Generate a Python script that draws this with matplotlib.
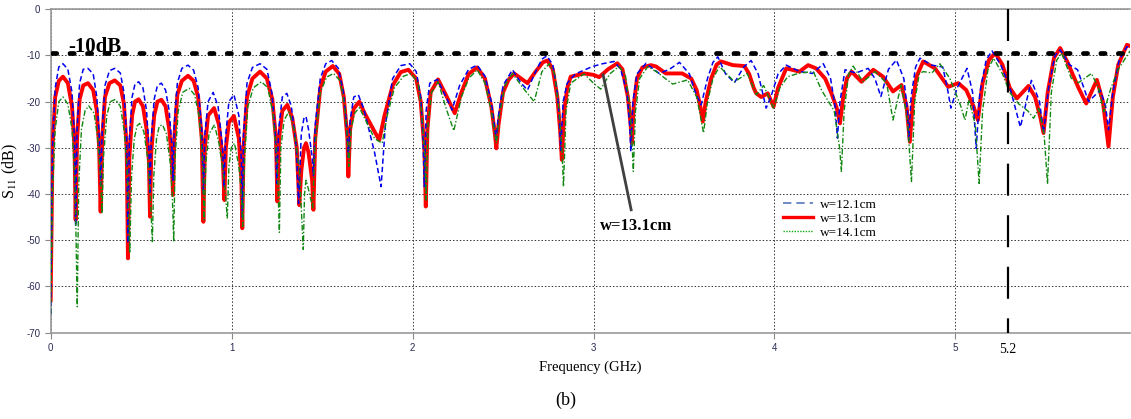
import matplotlib
matplotlib.use('Agg')
import matplotlib.pyplot as plt
from matplotlib.lines import Line2D

plt.rcParams['mathtext.fontset'] = 'stix'
plt.rcParams['axes.unicode_minus'] = False

# w = 13.1cm (red, solid)
f_131 = [0.000, 0.010, 0.025, 0.045, 0.068, 0.095, 0.118, 0.132, 0.138, 0.146, 0.160, 0.180, 0.206, 0.235, 0.255,
         0.268, 0.276, 0.285, 0.300, 0.325, 0.354, 0.385, 0.405, 0.420, 0.427, 0.435, 0.450, 0.466, 0.486, 0.510,
         0.530, 0.543, 0.549, 0.556, 0.572, 0.590, 0.612, 0.635, 0.655, 0.669, 0.676, 0.683, 0.700, 0.725, 0.759,
         0.790, 0.815, 0.835, 0.844, 0.852, 0.870, 0.903, 0.930, 0.952, 0.960, 0.968, 0.985, 1.013, 1.040, 1.054,
         1.059, 1.066, 1.085, 1.115, 1.157, 1.195, 1.225, 1.245, 1.253, 1.262, 1.280, 1.308, 1.335, 1.360, 1.374,
         1.385, 1.400, 1.411, 1.425, 1.445, 1.452, 1.462, 1.490, 1.520, 1.559, 1.595, 1.620, 1.640, 1.645, 1.655,
         1.675, 1.706, 1.735, 1.790, 1.816, 1.845, 1.890, 1.935, 1.977, 2.020, 2.045, 2.065, 2.073, 2.082, 2.100,
         2.141, 2.190, 2.233, 2.270, 2.310, 2.357, 2.400, 2.435, 2.455, 2.463, 2.475, 2.500, 2.530, 2.561, 2.600,
         2.635, 2.680, 2.720, 2.745, 2.775, 2.800, 2.815, 2.825, 2.838, 2.855, 2.874, 2.948, 3.000, 3.031, 3.080,
         3.132, 3.160, 3.190, 3.205, 3.212, 3.222, 3.240, 3.270, 3.317, 3.346, 3.400, 3.490, 3.540, 3.570, 3.590,
         3.604, 3.620, 3.650, 3.680, 3.705, 3.770, 3.834, 3.860, 3.885, 3.899, 3.927, 3.963, 3.995, 4.020, 4.065,
         4.138, 4.186, 4.230, 4.280, 4.315, 4.345, 4.362, 4.380, 4.400, 4.426, 4.481, 4.546, 4.600, 4.655, 4.702,
         4.730, 4.748, 4.765, 4.785, 4.822, 4.887, 4.960, 5.016, 5.060, 5.100, 5.124, 5.150, 5.185, 5.220, 5.260,
         5.300, 5.340, 5.404, 5.440, 5.470, 5.487, 5.510, 5.545, 5.579, 5.620, 5.680, 5.723, 5.782, 5.815, 5.846,
         5.870, 5.900, 5.948, 5.966]
s_131 = [-63, -30, -19, -15.5, -14.6, -16, -21, -30, -45.6, -28, -19.5, -16.5, -16.0, -17.5, -22,
         -30, -43.8, -28, -19, -16, -15.4, -16.5, -20.5, -30, -53.9, -32, -23, -20, -19.5, -21,
         -26, -33, -44.9, -31, -23, -20, -19.6, -21, -26, -32, -40.2, -28, -18.5, -15.5, -14.4,
         -15.5, -19, -28, -46, -30, -23, -21.4, -25, -33, -41.3, -30, -24.5, -23.1, -28, -37,
         -47.4, -30, -19, -15, -13.5, -15, -19.5, -28, -41.6, -28, -22, -20.7, -23.5, -30, -42.4,
         -35, -30, -29.0, -31, -37, -43.4, -28, -17, -13.5, -12.3, -14, -19, -28, -36.2, -26,
         -21.5, -20, -22.5, -26.5, -28.3, -23, -16.5, -13.6, -13.1, -15, -20, -30, -42.7, -26, -18,
         -15.2, -19, -22.5, -18, -14, -12.6, -15, -21, -27, -30.1, -25, -18, -15.3, -13.9, -15,
         -16.0, -13.5, -11.5, -11.1, -13, -19, -26, -32.6, -22, -17, -14.6, -13.9, -14.2, -14.7, -13,
         -11.7, -13, -19, -25, -29.0, -21, -15, -12.6, -12.1, -12.4, -13.9, -13.9, -15, -17.5, -21,
         -24.3, -20, -15, -12, -11.3, -12.1, -12.3, -14, -17, -18.2, -19.0, -18.2, -21.1, -17, -12.8,
         -13.5, -12.1, -12.8, -15, -18.2, -21.5, -24.7, -19, -15, -13.5, -15.7, -13.1, -14.6, -17.8, -16.4,
         -21, -28.7, -20, -14.6, -11.3, -12.8, -16.8, -16.0, -17.5, -21, -24, -16, -11, -9.5, -12,
         -17, -19.3, -16.6, -19, -23.5, -26.8, -18, -10.5, -8.4, -11.5, -17, -20.4, -15.3, -20, -29.7,
         -19, -12, -7.7, -8.0]

# w = 12.1cm (blue, dashed)
f_121 = [0.000, 0.010, 0.025, 0.045, 0.068, 0.095, 0.118, 0.132, 0.138, 0.146, 0.160, 0.180, 0.206, 0.235, 0.255,
         0.268, 0.276, 0.285, 0.300, 0.325, 0.354, 0.385, 0.405, 0.420, 0.427, 0.435, 0.450, 0.466, 0.486, 0.510,
         0.530, 0.543, 0.549, 0.556, 0.572, 0.590, 0.612, 0.635, 0.655, 0.669, 0.676, 0.683, 0.700, 0.725, 0.759,
         0.790, 0.815, 0.835, 0.844, 0.852, 0.870, 0.898, 0.925, 0.950, 0.958, 0.966, 0.985, 1.013, 1.040, 1.054,
         1.059, 1.066, 1.085, 1.115, 1.157, 1.195, 1.222, 1.242, 1.250, 1.260, 1.280, 1.305, 1.330, 1.358, 1.370,
         1.385, 1.400, 1.411, 1.425, 1.445, 1.452, 1.462, 1.490, 1.520, 1.553, 1.590, 1.618, 1.635, 1.645, 1.655,
         1.675, 1.700, 1.730, 1.790, 1.826, 1.850, 1.890, 1.935, 1.985, 2.020, 2.045, 2.058, 2.065, 2.075, 2.095,
         2.137, 2.185, 2.218, 2.260, 2.310, 2.357, 2.400, 2.435, 2.455, 2.462, 2.475, 2.500, 2.552, 2.600, 2.635,
         2.680, 2.715, 2.742, 2.775, 2.800, 2.812, 2.819, 2.832, 2.855, 2.900, 2.994, 3.050, 3.114, 3.150, 3.185,
         3.200, 3.206, 3.218, 3.240, 3.290, 3.363, 3.420, 3.475, 3.530, 3.560, 3.595, 3.630, 3.660, 3.687, 3.730,
         3.779, 3.830, 3.871, 3.910, 3.954, 3.980, 4.020, 4.065, 4.140, 4.210, 4.270, 4.310, 4.335, 4.348, 4.362,
         4.390, 4.450, 4.518, 4.555, 4.588, 4.630, 4.674, 4.715, 4.735, 4.742, 4.755, 4.780, 4.804, 4.870, 4.930,
         4.955, 4.975, 5.010, 5.064, 5.095, 5.115, 5.135, 5.170, 5.202, 5.250, 5.300, 5.359, 5.420, 5.465, 5.487,
         5.515, 5.550, 5.579, 5.630, 5.675, 5.736, 5.800, 5.830, 5.846, 5.870, 5.905, 5.948, 5.966]
s_121 = [-66, -30, -17, -12.5, -11.8, -13, -18, -28, -47, -26, -16, -13, -12.8, -14, -19,
         -27, -38, -26, -16.5, -13.3, -12.8, -13.8, -18, -28, -50.6, -28, -19, -16.2, -15.7, -17,
         -22, -30, -40, -28, -19.5, -16.5, -16.0, -17.5, -22, -29, -37, -25, -16, -12.8, -12.1,
         -13.2, -17, -26, -40, -27, -20, -18.0, -21, -30, -38.5, -28, -20, -18.5, -23, -33,
         -45, -27, -16, -12.6, -11.8, -13, -18, -27, -37.7, -26, -19, -18.2, -21, -30, -42,
         -27, -23.5, -23.2, -26, -32, -36, -25, -15, -11.8, -11.1, -12.8, -18, -25, -32, -24,
         -19, -18.5, -21.5, -31, -38.4, -25, -15, -12.2, -11.8, -13.5, -19, -28, -38.4, -22, -16,
         -15.2, -19, -21.8, -16.5, -13, -12.1, -14.5, -20, -26, -28.3, -23, -16.5, -13.1, -16, -17.5,
         -13.5, -10.8, -10.1, -12, -18, -24, -30.5, -20, -16, -14, -12.4, -11.8, -11.3, -13, -18,
         -25, -30.8, -20, -14, -11.7, -13.9, -13, -11.5, -14, -17.7, -20.7, -15, -11.5, -10.3, -14,
         -15.9, -12.5, -11.1, -14, -21.4, -19, -14, -12.1, -13.5, -13.9, -11.8, -15, -21, -27.9, -20,
         -13.1, -13.8, -12.8, -15, -18.9, -13, -11.0, -15, -22, -28.3, -19, -12.5, -10.6, -12.1, -12.5,
         -17, -21.4, -17, -12.8, -18, -30.1, -18, -11, -9.0, -12, -16.8, -25.5, -15.4, -20, -26.8,
         -17, -10, -8.8, -12, -13.1, -20.0, -17.5, -21, -26.1, -18, -11, -8.1, -8.3]

# w = 14.1cm (green, dash-dot)
f_141 = [0.000, 0.010, 0.025, 0.045, 0.068, 0.095, 0.118, 0.135, 0.147, 0.155, 0.170, 0.190, 0.210, 0.240, 0.260,
         0.275, 0.284, 0.292, 0.310, 0.330, 0.358, 0.385, 0.405, 0.425, 0.437, 0.447, 0.462, 0.478, 0.492, 0.515,
         0.535, 0.550, 0.562, 0.570, 0.585, 0.600, 0.618, 0.640, 0.660, 0.672, 0.680, 0.688, 0.705, 0.730, 0.765,
         0.795, 0.820, 0.838, 0.848, 0.858, 0.875, 0.905, 0.930, 0.960, 0.976, 0.985, 0.998, 1.016, 1.040, 1.054,
         1.062, 1.072, 1.090, 1.120, 1.165, 1.200, 1.230, 1.252, 1.264, 1.272, 1.290, 1.316, 1.345, 1.375, 1.396,
         1.403, 1.411, 1.425, 1.448, 1.460, 1.490, 1.525, 1.563, 1.600, 1.625, 1.640, 1.648, 1.660, 1.680, 1.706,
         1.740, 1.790, 1.832, 1.860, 1.900, 1.950, 1.993, 2.030, 2.050, 2.068, 2.075, 2.085, 2.105, 2.141, 2.190,
         2.228, 2.270, 2.310, 2.357, 2.400, 2.435, 2.455, 2.463, 2.480, 2.510, 2.552, 2.610, 2.672, 2.715, 2.755,
         2.785, 2.810, 2.825, 2.834, 2.848, 2.874, 2.948, 3.000, 3.040, 3.090, 3.140, 3.175, 3.200, 3.212, 3.220,
         3.232, 3.255, 3.300, 3.346, 3.438, 3.520, 3.570, 3.595, 3.608, 3.630, 3.660, 3.696, 3.779, 3.850, 3.900,
         3.940, 3.995, 4.030, 4.073, 4.140, 4.215, 4.260, 4.330, 4.360, 4.370, 4.385, 4.410, 4.435, 4.490, 4.556,
         4.620, 4.655, 4.700, 4.735, 4.757, 4.775, 4.800, 4.822, 4.870, 4.914, 4.970, 5.030, 5.053, 5.075, 5.110,
         5.131, 5.150, 5.180, 5.211, 5.260, 5.300, 5.350, 5.400, 5.432, 5.460, 5.490, 5.509, 5.530, 5.560, 5.587,
         5.640, 5.680, 5.752, 5.790, 5.820, 5.860, 5.900, 5.966]
s_141 = [-66, -40, -26, -20, -19.0, -20.5, -26, -38, -64.4, -38, -26, -22, -20.9, -22.5, -28,
         -36, -44.2, -32, -23, -20, -19.5, -21, -26, -36, -52.8, -36, -28, -25.2, -24.7, -26.5,
         -32, -40, -50.3, -36, -28, -25.3, -25.0, -27, -33, -40, -50.3, -32, -22, -18, -17.1,
         -18.5, -23, -32, -45.6, -33, -27, -25.0, -29, -37, -45.2, -34, -30, -29.0, -34, -40,
         -47, -32, -21, -17, -15.7, -17, -23, -33, -48.3, -30, -24, -22.2, -26, -35, -52.0,
         -40, -37, -39, -43, -30, -18, -14.7, -13.9, -15.5, -21, -28, -34, -26, -22.5, -21.3,
         -24, -28, -29.0, -23, -17, -14.5, -13.9, -16, -22, -32, -41.3, -25, -18, -15.7, -22,
         -26.3, -19, -15, -13.1, -16, -22, -27, -29.0, -23, -16.5, -13.9, -17, -20.0, -13.5, -11.8,
         -14, -22, -30, -38.4, -22, -16, -14, -16, -17.3, -14, -12.4, -14, -21, -28, -35.1,
         -22, -15, -12.4, -13.5, -16.2, -15.3, -19, -24, -26.8, -20, -15, -12.4, -15.7, -13.9, -18.5,
         -16.5, -21.4, -17, -14.6, -13.8, -13.5, -17.5, -22, -30, -35.1, -22, -14, -12.3, -15.7, -13.5,
         -16, -24.0, -16.4, -24, -37.3, -20, -14, -13.5, -13.8, -11.8, -15, -21, -24.0, -19.6, -25,
         -37.7, -22, -13, -10.6, -14, -18, -20.5, -22, -23.6, -21.5, -27, -37.8, -18, -11, -9.5,
         -14.9, -15.9, -13.9, -17, -22.2, -17, -13, -9]

labels = ['w=12.1cm', 'w=13.1cm', 'w=14.1cm']
xticks = [0, 1, 2, 3, 4, 5]
yticks = [0, -10, -20, -30, -40, -50, -60, -70]
marker_freq = 5.29   # where the dashed "5.2" marker sits on the frequency axis

serif = 'Liberation Serif'

fig = plt.figure(figsize=(11.31, 4.19), dpi=100)
ax = fig.add_axes([0.0448, 0.206, 0.9545, 0.772])

ax.plot(f_131, s_131, color='#ff0000', lw=2.8, zorder=3, solid_joinstyle='round')
ax.plot(f_121, s_121, color='#0000ee', lw=1.1, ls=(0, (3.5, 2)), zorder=4)
ax.plot(f_141, s_141, color='#118811', lw=1.0, ls=(0, (4, 1.5, 1, 1.5)), zorder=4)

# -10 dB reference line
ax.plot([0.01, 5.966], [-9.5, -9.5], color='black', lw=3.4, ls=(0, (0.9, 2.8)),
        dash_capstyle='round', zorder=5)
ax.text(0.096, -9.2, '-10dB', fontsize=15, fontweight='bold', family=serif, va='baseline', zorder=6)

# marker line at 5.2 GHz
ax.plot([marker_freq, marker_freq], [0, -70], color='black', lw=1.6, ls=(0, (14.4, 8.8)), zorder=5)
ax.text(marker_freq, -72.2, '5.2', fontsize=10, family=serif, ha='center', va='top')

# annotation for the red curve
ax.plot([3.053, 3.208], [-14.2, -43.4], color='#404040', lw=2, zorder=6)
ax.text(3.033, -47.8, 'w=13.1cm', fontsize=12, fontweight='bold', family=serif, va='baseline')

ax.set_xlim(0, 5.966)
ax.set_ylim(-70, 0)
ax.set_xticks(xticks)
ax.set_yticks(yticks)
ax.tick_params(labelsize=7, colors='#888888', labelcolor='#2b2b55', length=4, width=0.8)
for lab in ax.get_xticklabels() + ax.get_yticklabels():
    lab.set_family('Liberation Sans')
ax.grid(True, color='#333333', ls=(0, (1.5, 2)), lw=0.7)
for side in ['left', 'bottom', 'top']:
    ax.spines[side].set_color('#999999')
    ax.spines[side].set_linewidth(1.2)
ax.spines['right'].set_visible(False)

ax.set_xlabel('Frequency (GHz)', fontsize=10.5, family=serif, labelpad=5)
ax.set_ylabel('S$_{11}$ (dB)', fontsize=11.5, family=serif)
ax.yaxis.set_label_coords(-0.028, 0.5)

handles = [Line2D([], [], color='#5577bb', lw=1.2, ls=(0, (5, 3))),
           Line2D([], [], color='#ff0000', lw=2.4),
           Line2D([], [], color='#11aa11', lw=1.0, ls=(0, (1, 1)))]
ax.legend(handles, labels, loc='upper left', bbox_to_anchor=(0.6785, 0.415), frameon=False,
          prop={'family': serif, 'size': 9.5}, handlelength=2.3, handletextpad=0.5,
          labelspacing=0.15, borderpad=0, borderaxespad=0)

fig.text(0.5, 0.045, '(b)', fontsize=13, family=serif, ha='center', va='center')

fig.savefig('out.png', dpi=100)
